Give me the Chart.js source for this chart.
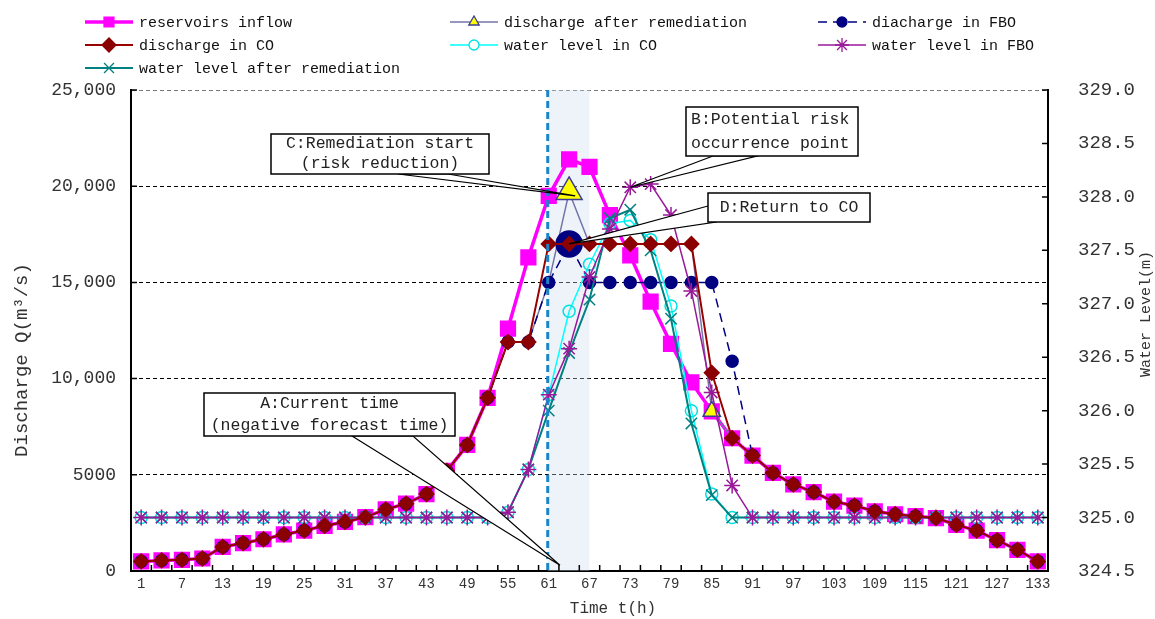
<!DOCTYPE html>
<html>
<head>
<meta charset="utf-8">
<script src="https://cdn.jsdelivr.net/npm/chart.js@4/dist/chart.umd.min.js"></script>
<style>
  body { margin: 0; background: #fff; }
  #wrap { width: 1155px; height: 619px; }
</style>
</head>
<body>
<div id="wrap"><canvas id="myChart" width="1155" height="619"></canvas></div>
<script>
// time axis (h), one point every 3 hours
var hours = [1,4,7,10,13,16,19,22,25,28,31,34,37,40,43,46,49,52,55,58,61,64,67,70,73,76,79,82,85,88,91,94,97,100,103,106,109,112,115,118,121,124,127,130,133]

var leftTickLabels = ['0', '5000', '10,000', '15,000', '20,000', '25,000']
var rightTickLabels = ['324.5', '325.0', '325.5', '326.0', '326.5', '327.0', '327.5', '328.0', '328.5', '329.0']

// discharge, m3/s
var inflow = [500,550,580,650,1250,1450,1650,1900,2100,2350,2550,2800,3200,3500,4000,5200,6550,9000,12600,16300,19500,21400,21000,18500,16400,14000,11800,9800,8300,6900,6000,5100,4500,4100,3600,3400,3100,2950,2850,2750,2400,2100,1600,1100,500]
var dischargeRemed = [500,550,580,650,1250,1450,1650,1900,2100,2350,2550,2800,3200,3500,4000,5200,6550,9000,11900,11900,15000,19700,17000,17000,17000,17000,17000,17000,8300,6900,6000,5100,4500,4100,3600,3400,3100,2950,2850,2750,2400,2100,1600,1100,500]
var dischargeFBO = [500,550,580,650,1250,1450,1650,1900,2100,2350,2550,2800,3200,3500,4000,5200,6550,9000,11900,11900,15000,17000,15000,15000,15000,15000,15000,15000,15000,10900,6000,5100,4500,4100,3600,3400,3100,2950,2850,2750,2400,2100,1600,1100,500]
var dischargeCO = [500,550,580,650,1250,1450,1650,1900,2100,2350,2550,2800,3200,3500,4000,5200,6550,9000,11900,11900,17000,17000,17000,17000,17000,17000,17000,17000,10300,6900,6000,5100,4500,4100,3600,3400,3100,2950,2850,2750,2400,2100,1600,1100,500]

// water level, m
var levelCO = [325.0,325.0,325.0,325.0,325.0,325.0,325.0,325.0,325.0,325.0,325.0,325.0,325.0,325.0,325.0,325.0,325.0,325.0,325.05,325.45,326.15,326.93,327.37,327.75,327.78,327.6,326.98,326.0,325.22,325.0,325.0,325.0,325.0,325.0,325.0,325.0,325.0,325.0,325.0,325.0,325.0,325.0,325.0,325.0,325.0]
var levelFBO = [325.0,325.0,325.0,325.0,325.0,325.0,325.0,325.0,325.0,325.0,325.0,325.0,325.0,325.0,325.0,325.0,325.0,325.0,325.05,325.45,326.15,326.58,327.25,327.7,328.09,328.12,327.83,327.12,326.17,325.3,325.0,325.0,325.0,325.0,325.0,325.0,325.0,325.0,325.0,325.0,325.0,325.0,325.0,325.0,325.0]
var levelRemed = [325.0,325.0,325.0,325.0,325.0,325.0,325.0,325.0,325.0,325.0,325.0,325.0,325.0,325.0,325.0,325.0,325.0,325.0,325.05,325.45,326.0,326.54,327.04,327.8,327.88,327.5,326.86,325.88,325.21,325.0,325.0,325.0,325.0,325.0,325.0,325.0,325.0,325.0,325.0,325.0,325.0,325.0,325.0,325.0,325.0]

var FONT = "'Liberation Mono', monospace"

// callouts: box in pixels, tip in data units
var callouts = [
  {lines: ['A:Current time', '(negative forecast time)'], box: [204, 393, 251, 43], base: [[352, 436], [413, 436]], tip: {x: 20.55, y: 300, axis: 'y'}, align: 'center'},
  {lines: ['C:Remediation start', '(risk reduction)'], box: [271, 134, 218, 40], base: [[398, 174], [448, 174]], tip: {x: 21.3, y: 19500, axis: 'y'}, align: 'center'},
  {lines: ['B:Potential risk', 'occurrence point'], box: [686, 107, 172, 49], base: [[713, 156], [757, 156]], tip: {x: 24, y: 328.09, axis: 'y1'}, align: 'left'},
  {lines: ['D:Return to CO'], box: [708, 193, 162, 29], base: [[708, 206], [716, 222]], tip: {x: 21, y: 17000, axis: 'y'}, align: 'center'}
]

var legendItems = [
  {ds: 0, x: 85, y: 22}, {ds: 1, x: 450, y: 22}, {ds: 2, x: 818, y: 22},
  {ds: 3, x: 85, y: 45}, {ds: 4, x: 450, y: 45}, {ds: 5, x: 818, y: 45},
  {ds: 6, x: 85, y: 68}
]

var decorPlugin = {
  id: 'decor',
  beforeDatasetsDraw: function(chart) {
    var ctx = chart.ctx, a = chart.chartArea, x = chart.scales.x
    ctx.save()
    ctx.fillStyle = 'rgba(205,220,240,0.35)'
    var x0 = x.getPixelForValue(19.95), x1 = x.getPixelForValue(22)
    ctx.fillRect(x0, a.top, x1 - x0, a.bottom - a.top)
    ctx.restore()
  },
  afterDatasetsDraw: function(chart) {
    var ctx = chart.ctx, a = chart.chartArea, xs = chart.scales.x
    ctx.save()
    // current time line
    var px = xs.getPixelForValue(19.95)
    ctx.strokeStyle = '#1a86c8'
    ctx.lineWidth = 3
    ctx.setLineDash([7, 4])
    ctx.beginPath(); ctx.moveTo(px, a.top); ctx.lineTo(px, a.bottom); ctx.stroke()
    ctx.setLineDash([])

    // inward tick marks
    ctx.strokeStyle = '#000'
    ctx.lineWidth = 1.5
    ctx.beginPath()
    for (var i = 0; i <= hours.length; i++) {
      var tx = xs.getPixelForValue(i - 0.5)
      ctx.moveTo(tx, a.bottom); ctx.lineTo(tx, a.bottom - 6)
    }
    chart.scales.y.ticks.forEach(function(t) {
      var ty = chart.scales.y.getPixelForValue(t.value)
      ctx.moveTo(a.left, ty); ctx.lineTo(a.left + 6, ty)
    })
    chart.scales.y1.ticks.forEach(function(t) {
      var ty = chart.scales.y1.getPixelForValue(t.value)
      ctx.moveTo(a.right, ty); ctx.lineTo(a.right - 6, ty)
    })
    ctx.stroke()

    // callouts
    callouts.forEach(function(c) {
      var tx = xs.getPixelForValue(c.tip.x)
      var ty = chart.scales[c.tip.axis].getPixelForValue(c.tip.y)
      ctx.fillStyle = '#fff'
      ctx.strokeStyle = '#000'
      ctx.lineWidth = 1.2
      ctx.beginPath()
      ctx.moveTo(c.base[0][0], c.base[0][1])
      ctx.lineTo(tx, ty)
      ctx.lineTo(c.base[1][0], c.base[1][1])
      ctx.closePath()
      ctx.fill(); ctx.stroke()
      var b = c.box
      ctx.fillRect(b[0], b[1], b[2], b[3])
      ctx.lineWidth = 1.5
      ctx.strokeRect(b[0], b[1], b[2], b[3])
      ctx.fillStyle = '#222'
      ctx.font = '16.5px ' + FONT
      ctx.textBaseline = 'middle'
      var lh = b[3] / c.lines.length
      c.lines.forEach(function(line, k) {
        var ly = b[1] + lh * (k + 0.5)
        if (c.align === 'left') { ctx.textAlign = 'left'; ctx.fillText(line, b[0] + 5, ly) }
        else { ctx.textAlign = 'center'; ctx.fillText(line, b[0] + b[2] / 2, ly) }
      })
    })
    ctx.restore()
  },
  afterDraw: function(chart) {
    var ctx = chart.ctx
    ctx.save()
    legendItems.forEach(function(it) {
      var ds = chart.data.datasets[it.ds]
      ctx.strokeStyle = ds.borderColor
      ctx.lineWidth = ds.borderWidth
      ctx.setLineDash(ds.borderDash || [])
      ctx.beginPath(); ctx.moveTo(it.x, it.y); ctx.lineTo(it.x + 48, it.y); ctx.stroke()
      ctx.setLineDash([])
      ctx.fillStyle = ds.legendFill
      ctx.strokeStyle = ds.legendStroke
      ctx.lineWidth = 1.3
      Chart.helpers.drawPoint(ctx, {pointStyle: ds.pointStyle, radius: ds.legendRadius, borderWidth: 1.3, rotation: 0}, it.x + 24, it.y)
      ctx.fillStyle = '#111'
      ctx.font = '15px ' + FONT
      ctx.textAlign = 'left'
      ctx.textBaseline = 'middle'
      ctx.fillText(ds.label, it.x + 54, it.y + 1)
    })

    // axis titles
    ctx.fillStyle = '#333'
    ctx.textAlign = 'center'
    ctx.textBaseline = 'middle'
    ctx.font = '16px ' + FONT
    ctx.fillText('Time t(h)', 613, 609)
    ctx.save()
    ctx.translate(22, 360)
    ctx.rotate(-Math.PI / 2)
    ctx.font = '19px ' + FONT
    ctx.fillText('Discharge Q(m\u00b3/s)', 0, 0)
    ctx.restore()
    ctx.save()
    ctx.translate(1146, 314)
    ctx.rotate(-Math.PI / 2)
    ctx.font = '15px ' + FONT
    ctx.fillText('Water Level(m)', 0, 0)
    ctx.restore()
    ctx.restore()
  }
}

function makeChart() {
  var ctx = document.getElementById('myChart').getContext('2d')
  Chart.defaults.font.family = FONT
  new Chart(ctx, {
    type: 'line',
    data: {
      labels: hours,
      datasets: [{
        label: 'reservoirs inflow',
        data: inflow, yAxisID: 'y', order: 7,
        borderColor: '#ff00ff', borderWidth: 3.5, backgroundColor: '#ff00ff',
        pointStyle: 'rect', pointRadius: 9, pointBorderColor: '#ff00ff', pointBackgroundColor: '#ff00ff',
        legendFill: '#ff00ff', legendStroke: '#ff00ff', legendRadius: 7
      }, {
        label: 'discharge after remediation',
        data: dischargeRemed, yAxisID: 'y', order: 5,
        borderColor: '#7474a8', borderWidth: 1.5,
        pointStyle: 'triangle',
        pointRadius: function(c) { return c.dataIndex === 21 ? 15 : (c.dataIndex === 28 ? 10 : 5) },
        pointBorderColor: '#3b3b96', pointBorderWidth: 1.5, pointBackgroundColor: '#ffff00',
        legendFill: '#ffff00', legendStroke: '#3b3b96', legendRadius: 6
      }, {
        label: 'diacharge in FBO',
        data: dischargeFBO, yAxisID: 'y', order: 4,
        borderColor: '#000080', borderWidth: 1.5, borderDash: [9, 6],
        pointStyle: 'circle',
        pointRadius: function(c) { return c.dataIndex === 21 ? 13 : 6 },
        pointBorderColor: '#000080', pointBackgroundColor: '#000080',
        legendFill: '#000080', legendStroke: '#000080', legendRadius: 5
      }, {
        label: 'discharge in CO',
        data: dischargeCO, yAxisID: 'y', order: 1,
        borderColor: '#990000', borderWidth: 2,
        pointStyle: 'rectRot', pointRadius: 7, pointBorderColor: '#8b0000', pointBackgroundColor: '#8b0000',
        legendFill: '#8b0000', legendStroke: '#8b0000', legendRadius: 7
      }, {
        label: 'water level in CO',
        data: levelCO, yAxisID: 'y1', order: 3,
        borderColor: '#00ffff', borderWidth: 1.5,
        pointStyle: 'circle', pointRadius: 6, pointBorderColor: '#00e0e0', pointBorderWidth: 1.5, pointBackgroundColor: 'rgba(255,255,255,0)',
        legendFill: '#ffffff', legendStroke: '#00e0e0', legendRadius: 5
      }, {
        label: 'water level in FBO',
        data: levelFBO, yAxisID: 'y1', order: 2,
        borderColor: '#99199a', borderWidth: 1.5,
        pointStyle: 'star', pointRadius: 8, pointBorderColor: '#99199a', pointBorderWidth: 1.5,
        legendFill: '#99199a', legendStroke: '#99199a', legendRadius: 7
      }, {
        label: 'water level after remediation',
        data: levelRemed, yAxisID: 'y1', order: 2.5,
        borderColor: '#008080', borderWidth: 2,
        pointStyle: 'crossRot', pointRadius: 8, pointBorderColor: '#008080', pointBorderWidth: 1.5,
        legendFill: '#008080', legendStroke: '#008080', legendRadius: 7
      }]
    },
    options: {
      responsive: false,
      animation: false,
      layout: {padding: {top: 90}},
      plugins: {legend: {display: false}, tooltip: {enabled: false}},
      elements: {line: {tension: 0}},
      scales: {
        x: {
          type: 'category', offset: true,
          grid: {display: false},
          border: {display: true, color: '#000', width: 2},
          ticks: {
            autoSkip: false, maxRotation: 0, padding: -3, color: '#333', font: {size: 14},
            callback: function(v, i) { return i % 2 === 0 ? String(hours[i]) : '' }
          },
          afterFit: function(s) { s.height = 48 }
        },
        y: {
          position: 'left', min: 0, max: 25000,
          grid: {
            drawTicks: false,
            color: function(c) { return c.tick.value === 0 ? 'rgba(0,0,0,0)' : (c.tick.value === 25000 ? '#777' : '#000') }
          },
          border: {display: true, color: '#000', width: 2, dash: [4, 3]},
          ticks: {
            stepSize: 5000, padding: 15, color: '#333', font: {size: 18},
            callback: function(v) { return leftTickLabels[Math.round(v / 5000)] }
          },
          afterFit: function(s) { s.width = 131 }
        },
        y1: {
          position: 'right', min: 324.5, max: 329,
          grid: {display: false},
          border: {display: true, color: '#000', width: 2},
          ticks: {
            stepSize: 0.5, padding: 22, color: '#333', font: {size: 19},
            callback: function(v) { return rightTickLabels[Math.round((v - 324.5) / 0.5)] }
          },
          afterFit: function(s) { s.width = 107 }
        }
      }
    },
    plugins: [decorPlugin]
  })
}

makeChart()
</script>
</body>
</html>
